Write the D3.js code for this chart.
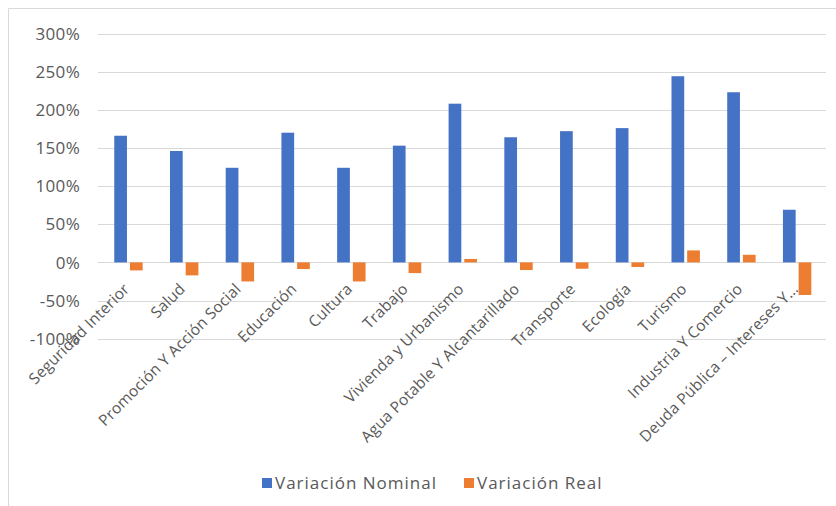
<!DOCTYPE html>
<html>
<head>
<meta charset="utf-8">
<script src="https://cdn.jsdelivr.net/npm/d3@7"></script>
<style>
  body { margin:0; background:#fff; }
  text { font-family: "Open Sans", "Noto Sans", sans-serif; fill:#595959; }
</style>
</head>
<body>
<script>
const categories = ["Seguridad Interior","Salud","Promoción Y Acción Social","Educación","Cultura","Trabajo",
  "Vivienda y Urbanismo","Agua Potable Y Alcantarillado","Transporte","Ecología","Turismo",
  "Industria Y Comercio","Deuda Pública – Intereses Y…"]
const nominal = [1.66,1.46,1.24,1.70,1.24,1.53,2.08,1.64,1.72,1.76,2.44,2.23,0.69]
const real = [-0.105,-0.17,-0.25,-0.087,-0.25,-0.14,0.045,-0.10,-0.083,-0.06,0.157,0.10,-0.427]
const seriesNames = ["Variación Nominal","Variación Real"]
const colors = ["#4472C4","#ED7D31"]
const yTicks = [-1,-0.5,0,0.5,1,1.5,2,2.5,3]

const width=836, height=506

const svg=d3.select("body").append("svg")
  .attr("width",width).attr("height",height)

// chart frame (only top and left edges fall inside the picture)
svg.append("path")
  .attr("d",`M8.5,${height} V8.5 H${width}`)
  .attr("fill","none").attr("stroke","#d9d9d9")

const x = d3.scaleBand().domain(categories).range([100.6,825])
const xSub = d3.scaleBand().domain(seriesNames)
  .range([x.bandwidth()/2-14.2, x.bandwidth()/2+14.2]).paddingInner(0.19)
const y = d3.scaleLinear().domain([-1,3]).range([338.7,33.5])

// gridlines
svg.append("g").selectAll("line")
  .data(yTicks).enter().append("line")
  .attr("x1",98).attr("x2",826)
  .attr("y1",d=>Math.round(y(d))+0.5).attr("y2",d=>Math.round(y(d))+0.5)
  .attr("stroke","#d9d9d9").attr("stroke-width",1)

// y tick labels
svg.append("g").selectAll("text")
  .data(yTicks).enter().append("text")
  .attr("x",80).attr("y",d=>y(d))
  .attr("dy","0.36em")
  .attr("text-anchor","end")
  .style("font-size","17px")
  .style("letter-spacing","0.3px")
  .text(d=>d3.format(".0%")(d).replace("−","-"))

const rows = categories.map((c,i)=>({cat:c, vals:[nominal[i],real[i]]}))

svg.append("g").selectAll("g")
  .data(rows).enter().append("g")
  .attr("transform",d=>`translate(${x(d.cat)},0)`)
  .selectAll("rect")
  .data(d=>d.vals.map((v,j)=>({v, s:seriesNames[j], j})))
  .enter().append("rect")
  .attr("x",d=>xSub(d.s))
  .attr("width",xSub.bandwidth())
  .attr("y",d=>y(Math.max(0,d.v)))
  .attr("height",d=>Math.abs(y(d.v)-y(0)))
  .attr("fill",d=>colors[d.j])

// category labels
svg.append("g").selectAll("text")
  .data(categories).enter().append("text")
  .attr("text-anchor","end")
  .style("font-size","15.5px")
  .style("letter-spacing","0.2px")
  .attr("transform",d=>`translate(${x(d)+x.bandwidth()/2+2},${290}) rotate(-45)`)
  .text(d=>d)

// legend
const legend = svg.append("g")
const lx = [262, 464]
seriesNames.forEach((s,i)=>{
  legend.append("rect")
    .attr("x",lx[i]).attr("y",478)
    .attr("width",10).attr("height",10)
    .attr("fill",colors[i])
  legend.append("text")
    .attr("x",lx[i]+13).attr("y",483)
    .attr("dy","0.36em")
    .style("font-size","17px")
    .style("letter-spacing","1px")
    .text(s)
})
</script>
</body>
</html>
